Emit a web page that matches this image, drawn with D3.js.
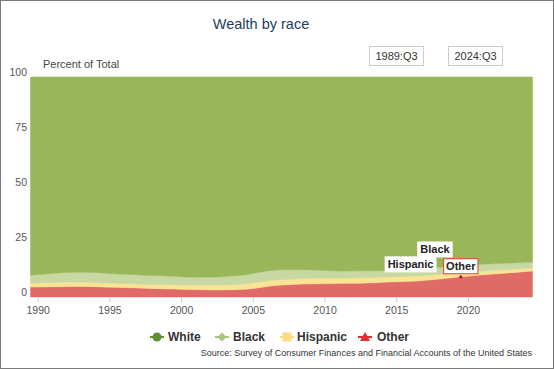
<!DOCTYPE html>
<html><head><meta charset="utf-8">
<script src="https://cdn.jsdelivr.net/npm/d3@7"></script>
<style>
html,body{margin:0;padding:0;background:#fff;}
svg{display:block;font-family:"Liberation Sans",Arial,sans-serif;}
</style></head>
<body><svg id="c" width="554" height="369"></svg>
<script>
// Quarterly observation labels (Q3 of each year), 1989:Q3 .. 2024:Q3
const years = [1989,1990,1991,1992,1993,1994,1995,1996,1997,1998,1999,2000,2001,2002,2003,2004,2005,2006,2007,2008,2009,2010,2011,2012,2013,2014,2015,2016,2017,2018,2019,2020,2021,2022,2023,2024];
// Share of total wealth (%)
const white    = [90.1,89.6,89.1,88.8,88.8,89.1,89.5,89.8,90.1,90.3,90.6,91.0,91.0,90.9,90.5,89.9,88.7,87.8,87.6,87.6,87.8,88.1,88.2,88.1,88.1,87.8,87.5,87.2,86.8,86.3,85.7,85.2,85.0,84.7,84.4,84.1];
const black    = [3.6,3.9,4.2,4.4,4.5,4.4,4.3,4.2,4.1,4.0,3.8,3.6,3.6,3.7,3.9,4.1,4.4,4.5,4.4,4.0,3.6,3.3,3.2,3.2,3.1,3.1,3.2,3.2,3.2,3.2,3.2,3.2,3.0,2.9,2.8,2.7];
const hispanic = [1.8,1.9,2.0,2.0,1.9,1.9,1.8,1.8,1.8,1.9,2.0,2.0,2.1,2.2,2.3,2.5,2.6,2.5,2.4,2.5,2.6,2.5,2.4,2.4,2.3,2.3,2.3,2.3,2.2,2.0,1.9,1.8,1.7,1.6,1.5,1.4];
const other    = [4.5,4.6,4.7,4.8,4.8,4.6,4.4,4.2,4.0,3.8,3.6,3.4,3.3,3.2,3.3,3.5,4.3,5.2,5.6,5.9,6.0,6.1,6.2,6.3,6.5,6.8,7.0,7.3,7.8,8.5,9.2,9.8,10.3,10.8,11.3,11.8];
const seriesNames = ["White","Black","Hispanic","Other"];
const xTicks = [1990,1995,2000,2005,2010,2015,2020];
const yTicks = [0,25,50,75,100];
const rangeLabels = ["1989:Q3","2024:Q3"];
// annotation anchors: [label, year, cumulative value]
const annotations = [["Hispanic",2016.0,9.6,"#fff"],["Black",2017.7,13.2,"#fff"],["Other",2019.5,9.2,"#e03a3a"]];

const colors = {White:"#99b658",Black:"#c7d8a2",Hispanic:"#fbe394",Other:"#e06a66"};
const markerColors = {White:"#5f9133",Black:"#a9c47c",Hispanic:"#fddc80",Other:"#e02f2f"};

const svg = d3.select("#c");
svg.append("rect").attr("x",0.5).attr("y",0.5).attr("width",553).attr("height",368)
  .attr("fill","#fff").attr("stroke","#7a7a7a");

const x = d3.scaleLinear().domain([1989.5,2024.5]).range([30.5,532.5]);
const y = d3.scaleLinear().domain([0,100]).range([297,77]);

const rows = years.map((yr,i)=>({t:yr+0.5,White:white[i],Black:black[i],Hispanic:hispanic[i],Other:other[i]}));
const stack = d3.stack().keys(["Other","Hispanic","Black","White"]);
const layers = stack(rows);
const area = d3.area().x(d=>x(d.data.t)).y0(d=>y(d[0])).y1(d=>y(d[1])).curve(d3.curveMonotoneX);

svg.append("g").selectAll("path").data(layers).join("path")
  .attr("d",area).attr("fill",d=>colors[d.key]).attr("stroke",d=>colors[d.key]).attr("stroke-width",0.5);

// Title
svg.append("text").attr("x",261).attr("y",29).attr("text-anchor","middle")
  .attr("font-size",14.5).attr("fill","#1d3d5c").text("Wealth by race");

// range boxes
rangeLabels.forEach((t,i)=>{
  const bx = [369,448][i];
  svg.append("rect").attr("x",bx+0.5).attr("y",46.5).attr("width",54).attr("height",19)
    .attr("fill","#fff").attr("stroke","#cccccc");
  svg.append("text").attr("x",bx+27.5).attr("y",60).attr("text-anchor","middle")
    .attr("font-size",11).attr("fill","#333").text(t);
});

svg.append("text").attr("x",43).attr("y",68).attr("font-size",11).attr("fill","#444").text("Percent of Total");

// y axis labels
svg.append("g").selectAll("text").data(yTicks).join("text")
  .attr("x",27).attr("y",d=>y(d)-4.5).attr("dy","0.35em").attr("text-anchor","end")
  .attr("font-size",10.5).attr("fill","#555").text(d=>d);

// x axis
const xa = d3.axisBottom(x).tickValues(xTicks).tickFormat(d3.format("d")).tickSize(5).tickPadding(5);
const gx = svg.append("g").attr("transform","translate(0,297)").call(xa);
gx.select(".domain").remove();
gx.selectAll("line").attr("stroke","#ccc");
gx.selectAll("text").attr("font-size",10.5).attr("fill","#555").attr("font-family","Liberation Sans,Arial,sans-serif");

// annotations
annotations.forEach(([lab,yr,v,bc])=>{
  const cx = x(yr);
  const py = y(v);
  const gap = lab==="Black"?11:(lab==="Other"?3:4);
  const h = 15;
  if(lab==="Other"){
    svg.append("circle").attr("cx",cx).attr("cy",py).attr("r",1.5).attr("fill","#8a2020");
  }
  const r = svg.append("rect");
  const t = svg.append("text").attr("x",cx).attr("y",py-gap-h/2).attr("dy","0.36em").attr("text-anchor","middle")
    .attr("font-size",11).attr("font-weight","bold").attr("fill","#222").text(lab);
  const w = t.node().getComputedTextLength()+5;
  r.attr("x",cx-w/2).attr("y",py-gap-h).attr("width",w).attr("height",h)
    .attr("fill","#fff").attr("stroke",bc).attr("stroke-width",1);
});

// legend
const lg = svg.append("g");
const legendPos = {White:[157,168],Black:[222,233],Hispanic:[287,297],Other:[365,377]};
const ly = 337;
seriesNames.forEach(n=>{
  const [mx,tx] = legendPos[n];
  const c = markerColors[n];
  lg.append("line").attr("x1",mx-7).attr("x2",mx+7).attr("y1",ly).attr("y2",ly).attr("stroke",c).attr("stroke-width",2);
  if(n==="White") lg.append("circle").attr("cx",mx).attr("cy",ly).attr("r",4.5).attr("fill",c);
  if(n==="Black") lg.append("path").attr("d",`M${mx},${ly-4.5}L${mx+4.5},${ly}L${mx},${ly+4.5}L${mx-4.5},${ly}Z`).attr("fill",c);
  if(n==="Hispanic") lg.append("rect").attr("x",mx-4.5).attr("y",ly-4.5).attr("width",9).attr("height",9).attr("fill",c);
  if(n==="Other") lg.append("path").attr("d",`M${mx},${ly-5}L${mx+5},${ly+4}L${mx-5},${ly+4}Z`).attr("fill",c);
  lg.append("text").attr("x",tx).attr("y",ly).attr("dy","0.36em").attr("font-size",12).attr("font-weight","bold").attr("fill","#333").text(n);
});

svg.append("text").attr("x",532).attr("y",356).attr("text-anchor","end").attr("font-size",9).attr("fill","#333")
  .text("Source: Survey of Consumer Finances and Financial Accounts of the United States");
</script></body></html>
